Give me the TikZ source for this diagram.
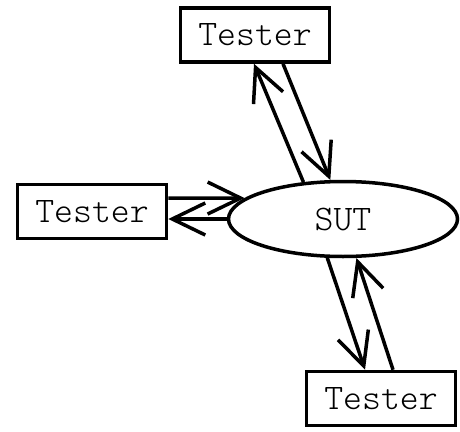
\documentclass[tikz,border=0pt]{standalone}
\usepackage{fontspec}
\newfontfamily\lightmono{Latin Modern Mono Light}
\usetikzlibrary{arrows.meta,shapes.geometric}
\begin{document}
\begin{tikzpicture}[x=1pt,y=1pt,
  lbl/.style={font=\lightmono\fontsize{36}{36}\selectfont},
  tbox/.style={draw, line width=3.5pt, rectangle, minimum width=149pt, minimum height=54pt, inner sep=0pt, lbl},
  sutnode/.style={draw, line width=3.5pt, ellipse, minimum width=229pt, minimum height=75pt, inner sep=0pt, lbl},
  arr/.style={line width=3.5pt, -{Straight Barb[length=33pt, width=32pt]}}]
\useasboundingbox (0,0) rectangle (460,-431);
\node[tbox] (top) at (255,-35) {Tester};
\node[tbox] (left) at (92,-211.5) {Tester};
\node[tbox] (bot) at (381,-398.5) {Tester};
\node[sutnode] (sut) at (343,-219) {SUT};
% top pair
\draw[arr] (sut.137) -- ([xshift=-1pt]top.south);
\draw[arr] ([xshift=28pt]top.south) -- (sut.108);
% left pair
\draw[arr] ([yshift=13.5pt]left.east) -- (sut.168);
\draw[arr] (sut.west) -- ([yshift=-7.5pt]left.east);
% bottom pair
\draw[arr] (sut.248) -- ([xshift=-16pt]bot.north);
\draw[arr] ([xshift=12pt]bot.north) -- (sut.289);
\end{tikzpicture}
\end{document}
